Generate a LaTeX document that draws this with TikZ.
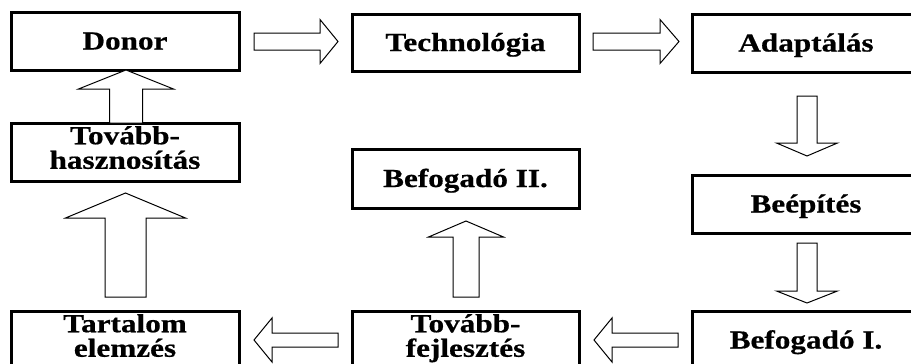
\documentclass[tikz,border=0pt]{standalone}
\usepackage{fontspec}
\newfontfamily\labfont{Liberation Serif}[FakeStretch=1.2, FakeBold=0.6]
\usetikzlibrary{calc}
\tikzset{
  box/.style={draw, line width=3pt, minimum width=228pt, minimum height=58pt,
    inner sep=0pt, outer sep=0pt, align=center,
    font=\labfont\bfseries\fontsize{26}{24.5}\selectfont,
    text height=17pt, text depth=0pt},
  box2/.style={box, text height=41.5pt, text depth=8pt},
  arrowline/.style={draw=black, line width=1pt, fill=white, line join=miter}
}
% #1 tail, #2 tip, #3 shaft half width, #4 head half width, #5 head length
\newcommand{\blockarrow}[5]{%
  \coordinate (ba-h) at ($(#2)!#5!(#1)$);
  \draw[arrowline] ($(#1)!#3!90:(#2)$) -- ($(ba-h)!#3!90:(#2)$) -- ($(ba-h)!#4!90:(#2)$)
    -- (#2) -- ($(ba-h)!#4!-90:(#2)$) -- ($(ba-h)!#3!-90:(#2)$) -- ($(#1)!#3!-90:(#2)$) -- cycle;}
\begin{document}
\begin{tikzpicture}[x=1pt, y=-1pt]
\useasboundingbox (0,0) rectangle (911,364);
\clip (0,0) rectangle (911,364);
% boxes
\node[box] (donor) at (125,41) {Donor};
\node[box, minimum width=227pt, minimum height=57pt] (tech) at (465.5,42.5) {Technológia};
\node[box] (adapt) at (806,43) {Adaptálás};
\node[box2] (tovh) at (125,152) {Tovább-\\hasznosítás};
\node[box, minimum width=227pt, minimum height=59pt] (befII) at (465.5,178.5) {Befogadó II.};
\node[box] (beep) at (806,204) {Beépítés};
\node[box2] (tart) at (125,340) {Tartalom\\elemzés};
\node[box2, minimum width=227pt] (tovf) at (465.5,340) {Tovább-\\fejlesztés};
\node[box] (befI) at (806,340) {Befogadó I.};
% connector end points
\coordinate (a1s) at ($(donor.east)+(15,0.5)$);
\coordinate (a1e) at ($(tech.west)+(-14,-1)$);
\coordinate (a2s) at ($(tech.east)+(14,-1)$);
\coordinate (a2e) at ($(adapt.west)+(-13,-1.5)$);
\coordinate (a3s) at ($(adapt.south)+(1,24)$);
\coordinate (a3e) at ($(beep.north)+(1,-19)$);
\coordinate (a4s) at ($(beep.south)+(1,10)$);
\coordinate (a4e) at ($(befI.north)+(1,-8)$);
\coordinate (a5s) at ($(befI.west)+(-14,0)$);
\coordinate (a5e) at ($(tovf.east)+(15,0)$);
\coordinate (a6s) at ($(tovf.west)+(-14,0)$);
\coordinate (a6e) at ($(tart.east)+(15,0)$);
\coordinate (a7s) at ($(tart.north)+(0.5,-14)$);
\coordinate (a7e) at ($(tovh.south)+(0.5,12)$);
\coordinate (a8s) at ($(tovh.north)+(1,0)$);
\coordinate (a8e) at ($(donor.south)+(1,0)$);
\coordinate (a9s) at ($(tovf.north)+(0.5,-14)$);
\coordinate (a9e) at ($(befII.south)+(0.5,13)$);
% block arrows
\blockarrow{a1s}{a1e}{8.5pt}{22pt}{18pt}
\blockarrow{a2s}{a2e}{8.5pt}{22pt}{19pt}
\blockarrow{a3s}{a3e}{10pt}{30.5pt}{13pt}
\blockarrow{a4s}{a4e}{10pt}{30.5pt}{12pt}
\blockarrow{a5s}{a5e}{7pt}{22pt}{18pt}
\blockarrow{a6s}{a6e}{7pt}{22pt}{18pt}
\blockarrow{a7s}{a7e}{20.5pt}{60pt}{25pt}
\blockarrow{a8s}{a8e}{16.5pt}{47.5pt}{19pt}
\blockarrow{a9s}{a9e}{13pt}{37.5pt}{16pt}
\end{tikzpicture}
\end{document}
